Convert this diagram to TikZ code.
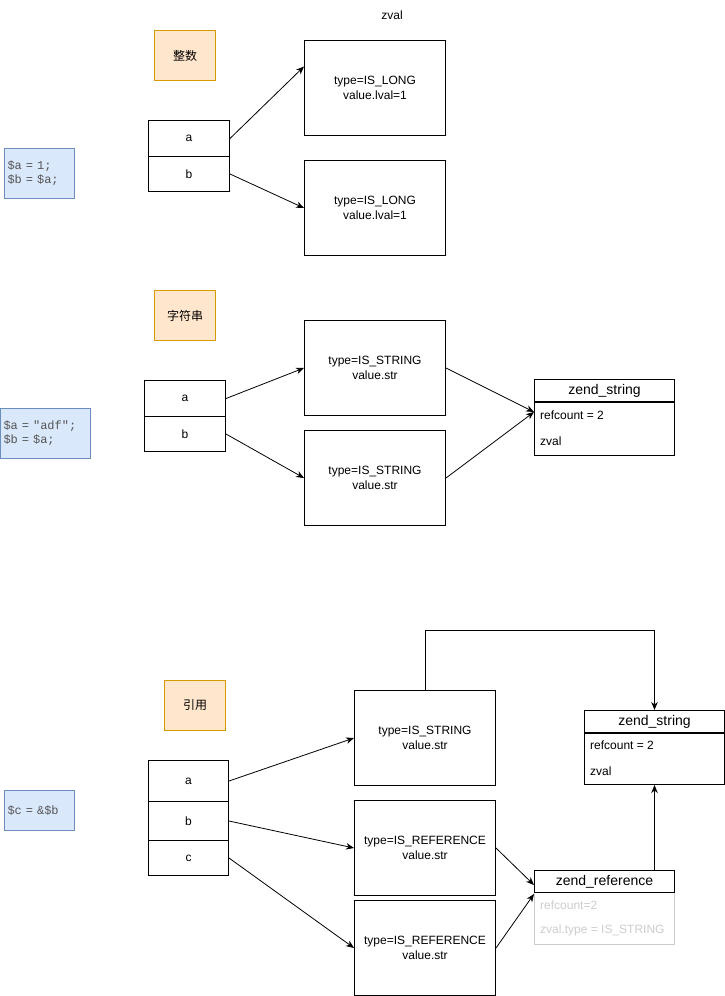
\documentclass[tikz,border=0pt]{standalone}
\usepackage{fontspec}
\setmainfont{Liberation Sans}
\setmonofont{Liberation Mono}[WordSpace={1,0,0}]
\newfontfamily\cjk{Noto Sans CJK SC}
\usetikzlibrary{arrows.meta,calc}
\definecolor{orangefill}{HTML}{FFE6CC}
\definecolor{orangeline}{HTML}{D79B00}
\definecolor{bluefill}{HTML}{DAE8FC}
\definecolor{blueline}{HTML}{6C8EBF}
\definecolor{codetext}{HTML}{555555}
\definecolor{faded}{HTML}{CCCCCC}
\tikzset{
  base/.style={font=\fontsize{12}{15}\selectfont, inner sep=0pt},
  zbox/.style={base, draw, line width=1pt, minimum width=141pt, minimum height=95pt, align=center, anchor=north west},
  cell/.style={base, draw, line width=1pt, minimum width=81pt, anchor=north west},
  tagbox/.style={base, draw=orangeline, fill=orangefill, line width=1pt, minimum width=61pt, minimum height=50pt, anchor=north west, font=\cjk\fontsize{12}{15}\selectfont},
  codebox/.style={draw=blueline, fill=bluefill, line width=1pt, inner xsep=3pt, inner ysep=0pt, align=left, anchor=north west, text=codetext, font=\ttfamily\fontsize{12}{14}\selectfont},
  hdr/.style={draw, line width=1pt, minimum width=140pt, minimum height=22pt, inner sep=0pt, anchor=north west, font=\fontsize{14}{16}\selectfont},
  body/.style={draw, line width=1pt, minimum width=140pt, inner sep=0pt, anchor=north west},
  rowtxt/.style={base, anchor=west},
  arr/.style={-{Stealth[length=8pt,width=6.5pt,inset=2.5pt]}, line width=0.8pt},
}
\begin{document}
\begin{tikzpicture}[x=1pt,y=-1pt]
\useasboundingbox (0,0) rectangle (725,996);

% ---------- section 1 ----------
\node[base] (title) at (392,15) {zval};
\node[tagbox] (tag1) at (154,30) {整数};
\node[codebox, text width=64pt, minimum height=50pt] (code1) at (4,148) {\$a~=~1;\\\$b~=~\$a;};
\node[cell, minimum height=36pt] (a1) at (148,120) {a};
\node[cell, minimum height=35pt] (b1) at (148,156) {b};
\node[zbox] (z1) at (304,40) {type=IS\_LONG\\value.lval=1};
\node[zbox] (z2) at (304,160) {type=IS\_LONG\\value.lval=1};
\draw[arr] (a1.east) -- ([yshift=21.5pt]z1.west);
\draw[arr] (b1.east) -- (z2.west);

% ---------- section 2 ----------
\node[tagbox] (tag2) at (154,290) {字符串};
\node[codebox, text width=84pt, minimum height=50pt] (code2) at (0,408) {\$a~=~"adf";\\\$b~=~\$a;};
\node[cell, minimum height=36pt] (a2) at (144,380) {a};
\node[cell, minimum height=35pt] (b2) at (144,416) {b};
\node[zbox] (z3) at (304,320) {type=IS\_STRING\\value.str};
\node[zbox] (z4) at (304,430) {type=IS\_STRING\\value.str};
\node[hdr] (zs1) at (534,379) {zend\_string};
\node[body, minimum height=53pt] (zs1b) at (zs1.south west) {};
\node[rowtxt] (zs1r) at (540,415) {refcount = 2};
\node[rowtxt] (zs1z) at (540,441) {zval};
\coordinate (zs1in) at (534,412);
\draw[arr] (a2.east) -- (z3.west);
\draw[arr] (b2.east) -- (z4.west);
\draw[arr] (z3.east) -- (zs1in);
\draw[arr] (z4.east) -- (zs1in);

% ---------- section 3 ----------
\node[tagbox] (tag3) at (164,680) {引用};
\node[codebox, text width=64pt, minimum height=40pt] (code3) at (4,790) {\$c~=~\&\$b};
\node[cell, minimum height=41pt, minimum width=80pt] (a3) at (148,760) {a};
\node[cell, minimum height=39pt, minimum width=80pt] (b3) at (148,801) {b};
\node[cell, minimum height=35pt, minimum width=80pt] (c3) at (148,840) {c};
\node[zbox] (z5) at (354,690) {type=IS\_STRING\\value.str};
\node[zbox] (z6) at (354,800) {type=IS\_REFERENCE\\value.str};
\node[zbox] (z7) at (354,900) {type=IS\_REFERENCE\\value.str};
\node[hdr] (zs2) at (584,710) {zend\_string};
\node[body, minimum height=51pt] (zs2b) at (zs2.south west) {};
\node[rowtxt] (zs2r) at (590,745) {refcount = 2};
\node[rowtxt] (zs2z) at (590,771) {zval};
\node[body, minimum height=52pt, draw=faded] (zrb) at (534,892) {};
\node[hdr] (zr) at (534,870) {zend\_reference};
\node[rowtxt, text=faded] (zrr) at (540,905) {refcount=2};
\node[rowtxt, text=faded] (zrz) at (540,930) {zval.type = IS\_STRING};
\coordinate (zrin1) at (534,885);
\coordinate (zrin2) at (534,894);
\coordinate (zrtop) at (zs2b.south |- zr.north);
\draw[arr] (a3.east) -- (z5.west);
\draw[arr] (b3.east) -- (z6.west);
\draw[arr] (c3.east) -- (z7.west);
\draw[arr] (z6.east) -- (zrin1);
\draw[arr] (z7.east) -- (zrin2);
\draw[arr] (z5.north) -- ++(0,-60) -| (zs2.north);
\draw[arr] (zrtop) -- (zs2b.south);
\end{tikzpicture}
\end{document}
